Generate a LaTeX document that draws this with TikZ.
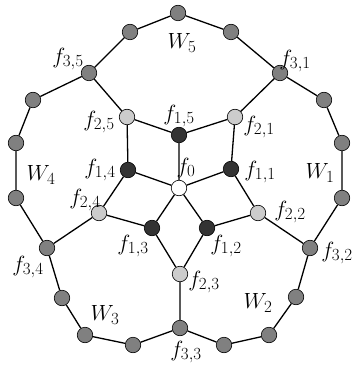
\documentclass[tikz,border=0pt]{standalone}
\usepackage{fix-cm}
\DeclareMathSizes{22}{22}{17}{13}
\begin{document}
\begin{tikzpicture}[x=1pt,y=-1pt,
  v/.style={circle,draw=black,line width=0.6pt,minimum size=15.5pt,inner sep=0pt},
  outer/.style={v,fill=black!50},
  light/.style={v,fill=black!20},
  dark/.style={v,fill=black!80},
  center/.style={v,fill=white},
  lbl/.style={inner sep=0pt,font=\fontsize{22}{27}\selectfont},
  edge/.style={line width=1.3pt}]
\useasboundingbox (0,0) rectangle (355,366);
% nodes
\node[center] (f0) at (179,188) {};
\node[dark] (f15) at (179,135) {};
\node[dark] (f11) at (231,169) {};
\node[dark] (f12) at (207,228) {};
\node[dark] (f13) at (152,228) {};
\node[dark] (f14) at (128,170) {};
\node[light] (f25) at (127,117) {};
\node[light] (f21) at (235,117) {};
\node[light] (f22) at (258,213) {};
\node[light] (f23) at (180,274) {};
\node[light] (f24) at (99,213) {};
\node[outer] (f35) at (89,73) {};
\node[outer] (f31) at (280,73) {};
\node[outer] (f32) at (310,248) {};
\node[outer] (f33) at (180,328) {};
\node[outer] (f34) at (47,248) {};
\node[outer] (o1) at (130,32) {};
\node[outer] (o2) at (178,13) {};
\node[outer] (o3) at (231,32) {};
\node[outer] (o4) at (324,100) {};
\node[outer] (o5) at (342,143) {};
\node[outer] (o6) at (342,198) {};
\node[outer] (o7) at (296,297) {};
\node[outer] (o8) at (269,335) {};
\node[outer] (o9) at (224,345) {};
\node[outer] (o10) at (133,345) {};
\node[outer] (o11) at (85,335) {};
\node[outer] (o12) at (62,298) {};
\node[outer] (o13) at (16,198) {};
\node[outer] (o14) at (16,143) {};
\node[outer] (o15) at (33,100) {};
% edges
\draw[edge] (f0) -- (f15) (f0) -- (f11) (f0) -- (f12) (f0) -- (f13) (f0) -- (f14);
\draw[edge] (f15) -- (f25) (f15) -- (f21)
            (f11) -- (f21) (f11) -- (f22)
            (f12) -- (f22) (f12) -- (f23)
            (f13) -- (f23) (f13) -- (f24)
            (f14) -- (f24) (f14) -- (f25);
\draw[edge] (f21) -- (f31) (f22) -- (f32) (f23) -- (f33) (f24) -- (f34) (f25) -- (f35);
\draw[edge] (f35) -- (o1) -- (o2) -- (o3) -- (f31) -- (o4) -- (o5) -- (o6) -- (f32)
  -- (o7) -- (o8) -- (o9) -- (f33) -- (o10) -- (o11) -- (o12) -- (f34)
  -- (o13) -- (o14) -- (o15) -- (f35);
% labels
\node[lbl] (w5) at (182,43) {$W_5$};
\node[lbl] (w4) at (41,175) {$W_4$};
\node[lbl] (w1) at (320,173) {$W_1$};
\node[lbl] (w3) at (105,315) {$W_3$};
\node[lbl] (w2) at (258,303) {$W_2$};
\node[lbl] (l35) at (68,59) {$f_{3,5}$};
\node[lbl] (l31) at (295,61) {$f_{3,1}$};
\node[lbl] (l25) at (99,122) {$f_{2,5}$};
\node[lbl] (l21) at (259,127) {$f_{2,1}$};
\node[lbl] (l15) at (179,116) {$f_{1,5}$};
\node[lbl] (l14) at (100,170) {$f_{1,4}$};
\node[lbl] (l0) at (186,168) {$f_0$};
\node[lbl] (l11) at (260,172) {$f_{1,1}$};
\node[lbl] (l24) at (85,200) {$f_{2,4}$};
\node[lbl] (l13) at (133,246) {$f_{1,3}$};
\node[lbl] (l12) at (226,246) {$f_{1,2}$};
\node[lbl] (l23) at (204,282) {$f_{2,3}$};
\node[lbl] (l22) at (290,212) {$f_{2,2}$};
\node[lbl] (l32) at (337,253) {$f_{3,2}$};
\node[lbl] (l34) at (28,267) {$f_{3,4}$};
\node[lbl] (l33) at (186,352) {$f_{3,3}$};
\end{tikzpicture}
\end{document}
